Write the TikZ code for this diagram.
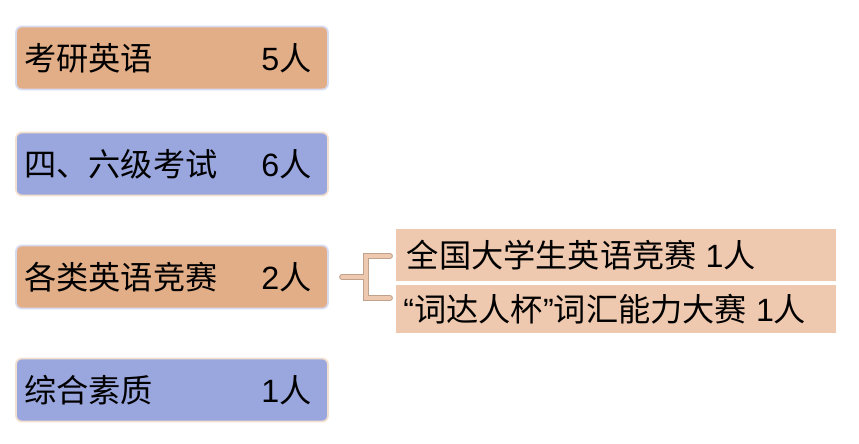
\documentclass[tikz,border=0pt]{standalone}
\usepackage{fontspec}
\setmainfont{Liberation Sans}
\newfontfamily\cjk{Noto Sans CJK SC}
\usetikzlibrary{positioning}
\definecolor{boxorange}{HTML}{E2AE88}
\definecolor{boxblue}{HTML}{9AA6DE}
\definecolor{subfill}{HTML}{EFC9AF}
\newcommand{\zh}[1]{{\cjk #1}}
\tikzset{
  catbox/.style={draw=#1!40!white, line width=1.5pt, rounded corners=5pt,
    minimum width=9.36cm, minimum height=1.89cm, inner sep=0pt},
  subbox/.style={fill=subfill, minimum width=13.2cm, inner sep=0pt, anchor=west},
  lbl/.style={font=\fontsize{27.5}{31}\selectfont, anchor=west},
  num/.style={font=\fontsize{27.5}{31}\selectfont, anchor=east}
}
\begin{document}
\begin{tikzpicture}[x=0.03cm,y=-0.03cm]
  \useasboundingbox (0,0) rectangle (859,444);
  % category boxes
  \node[catbox=boxblue, fill=boxorange] (kaoyan) at (172,58) {};
  \node[catbox=boxorange, fill=boxblue] (siliu) at (172,164) {};
  \node[catbox=boxblue, fill=boxorange] (jingsai) at (172,277) {};
  \node[catbox=boxorange, fill=boxblue] (suzhi) at (172,390) {};
  \node[lbl] at ([xshift=0.15cm]kaoyan.west) {\zh{考研英语}};
  \node[num] at ([xshift=-0.4cm]kaoyan.east) {5\zh{人}};
  \node[lbl] at ([xshift=0.15cm]siliu.west) {\zh{四、六级考试}};
  \node[num] at ([xshift=-0.4cm]siliu.east) {6\zh{人}};
  \node[lbl] at ([xshift=0.15cm]jingsai.west) {\zh{各类英语竞赛}};
  \node[num] at ([xshift=-0.4cm]jingsai.east) {2\zh{人}};
  \node[lbl] at ([xshift=0.15cm]suzhi.west) {\zh{综合素质}};
  \node[num] at ([xshift=-0.4cm]suzhi.east) {1\zh{人}};
  % sub items
  \node[subbox, minimum height=1.56cm] (quanguo) at (396,255) {};
  \node[subbox, minimum height=1.44cm] (cida) at (396,309) {};
  \node[lbl] at ([xshift=0.2cm]quanguo.west) {\zh{全国大学生英语竞赛} 1\zh{人}};
  \node[lbl] at ([xshift=0.1cm]cida.west) {“\zh{词达人杯}”\zh{词汇能力大赛} 1\zh{人}};
  % brace
  \coordinate (bt) at (390,256);
  \coordinate (bb) at (390,298);
  \draw[line width=5pt, draw=subfill!80!black, line cap=round]
    (bt) -- (366,256) -- (366,277) -- (342,277) (366,277) -- (366,298) -- (bb);
  \draw[line width=3pt, draw=subfill, line cap=round]
    (bt) -- (366,256) -- (366,277) -- (342,277) (366,277) -- (366,298) -- (bb);
\end{tikzpicture}
\end{document}
